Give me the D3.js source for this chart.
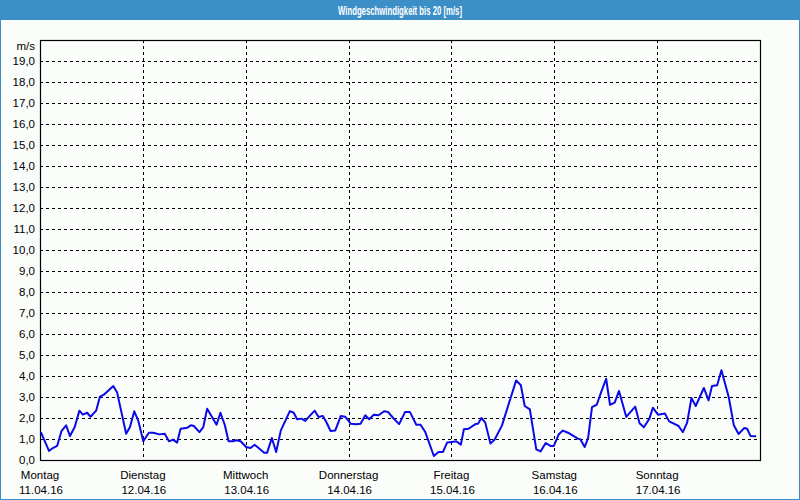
<!DOCTYPE html>
<html><head><meta charset="utf-8">
<script src="https://cdn.jsdelivr.net/npm/d3@7"></script>
<style>body{margin:0;background:#fff}svg{display:block}</style>
</head><body>
<svg id="c" width="800" height="500"></svg>
<script>
const title = "Windgeschwindigkeit bis 20 [m/s]";
const unit = "m/s";
const dayNames = ["Montag","Dienstag","Mittwoch","Donnerstag","Freitag","Samstag","Sonntag"];
const dayDates = ["11.04.16","12.04.16","13.04.16","14.04.16","15.04.16","16.04.16","17.04.16"];
const yTicks = d3.range(0, 20, 1);
// hours since Monday 00:00
const hours = [0.2,2.1,3.0,4.0,5.0,6.1,7.0,8.1,9.2,10.0,11.0,11.8,13.1,14.0,14.9,17.1,18.0,20.1,21.0,22.0,22.9,24.1,25.4,26.4,27.9,
29.1,30.1,31.0,32.0,32.8,34.4,35.2,35.9,37.2,38.1,39.0,41.2,42.1,43.1,44.0,45.0,45.8,46.8,48.1,49.1,50.1,52.3,53.0,54.1,55.1,
56.2,58.3,59.2,60.0,61.0,61.9,63.2,64.1,65.0,66.0,66.8,67.8,68.9,70.2,71.2,72.5,73.7,74.8,75.9,76.8,77.9,79.0,80.3,81.2,82.4,83.8,
85.2,86.3,87.8,88.8,89.9,91.9,93.0,94.0,95.0,96.1,97.1,98.2,98.9,100.0,101.6,102.2,103.0,103.9,105.1,106.1,107.8,111.1,
112.2,113.1,114.3,115.8,116.8,118.0,119.1,119.9,121.0,122.0,123.2,125.5,126.1,127.1,127.9,128.8,129.9,131.0,132.1,133.0,134.1,135.1,136.8,137.8,138.9,
139.9,140.9,142.2,143.0,144.2,145.8,146.8,147.9,149.0,150.0,151.0,152.0,153.0,154.9,156.0,156.8,158.0,159.0,160.7,161.9,163.0,164.3,165.0,165.8,167.1];
const speed = [1.33,0.43,0.57,0.67,1.37,1.65,1.14,1.57,2.35,2.16,2.25,2.06,2.35,3.02,3.11,3.52,3.21,1.25,1.57,2.32,1.89,0.89,1.30,1.30,1.22,
1.25,0.89,0.97,0.83,1.49,1.54,1.65,1.62,1.33,1.57,2.44,1.68,2.25,1.68,0.89,0.89,0.94,0.89,0.62,0.57,0.73,0.35,0.35,1.05,0.38,
1.41,2.33,2.25,1.94,1.97,1.86,2.16,2.35,2.05,2.10,1.81,1.38,1.41,2.10,2.06,1.73,1.70,1.73,2.13,1.94,2.16,2.13,2.32,2.29,2.00,1.71,
2.29,2.29,1.68,1.68,1.33,0.19,0.38,0.38,0.83,0.86,0.89,0.73,1.46,1.49,1.71,1.73,2.00,1.78,0.78,0.98,1.65,3.79,
3.56,2.57,2.41,0.51,0.41,0.81,0.67,0.67,1.21,1.40,1.30,1.02,0.98,0.62,1.05,2.52,2.63,3.27,3.87,2.63,2.73,3.29,2.05,2.29,2.54,
1.75,1.56,1.97,2.49,2.16,2.21,1.84,1.73,1.62,1.33,1.78,2.95,2.57,3.43,2.84,3.52,3.56,4.27,3.00,1.65,1.24,1.52,1.49,1.14,1.13];

const svg = d3.select("#c");
const L = 40, R = 760, T = 40, B = 460;
const x = d3.scaleLinear().domain([0, 168]).range([L, R]);
const y = d3.scaleLinear().domain([0, 20]).range([B, T]);
const font = "'Liberation Sans', Arial, sans-serif";

svg.append("rect").attr("x",0.5).attr("y",0.5).attr("width",799).attr("height",499)
  .attr("fill","#fbfdfb").attr("stroke","#3c8fc6").attr("stroke-width",1);
svg.append("rect").attr("x",0).attr("y",0).attr("width",800).attr("height",20).attr("fill","#3c8fc6");
svg.append("text").attr("x",400).attr("y",15).attr("text-anchor","middle")
  .attr("fill","#fff").attr("font-family",font).attr("font-size",13).attr("font-weight","bold")
  .attr("textLength",124).attr("lengthAdjust","spacingAndGlyphs").text(title);

// grid
const g = svg.append("g");
g.selectAll("line.h").data(yTicks.filter(d=>d>0)).join("line")
  .attr("x1",L).attr("x2",R).attr("y1",d=>Math.round(y(d))+0.5).attr("y2",d=>Math.round(y(d))+0.5)
  .attr("stroke","#000").attr("stroke-dasharray","3,3");
g.selectAll("line.v").data(d3.range(1,7)).join("line")
  .attr("y1",T).attr("y2",B).attr("x1",d=>Math.round(x(d*24))+0.5).attr("x2",d=>Math.round(x(d*24))+0.5)
  .attr("stroke","#000").attr("stroke-dasharray","3,3");

// y axis
const yAxis = d3.axisLeft(y).tickValues(yTicks).tickSize(0).tickPadding(5)
  .tickFormat(d => d3.format(".1f")(d).replace(".", ","));
const ya = svg.append("g").attr("transform",`translate(${L},0)`).call(yAxis);
ya.select(".domain").remove();
ya.selectAll("text").attr("font-family",font).attr("font-size",11.5).attr("fill","#000");
svg.append("text").attr("x",35).attr("y",50).attr("text-anchor","end")
  .attr("font-family",font).attr("font-size",11.5).text(unit);

// x labels
const xa = svg.append("g");
xa.selectAll("text.d").data(dayNames).join("text")
  .attr("x",(d,i)=>x(i*24)).attr("y",479).attr("text-anchor","middle")
  .attr("font-family",font).attr("font-size",11.5).text(d=>d);
xa.selectAll("text.t").data(dayDates).join("text")
  .attr("x",(d,i)=>x(i*24)+1).attr("y",494).attr("text-anchor","middle")
  .attr("font-family",font).attr("font-size",11.5).text(d=>d);

// frame
svg.append("rect").attr("x",L+0.5).attr("y",T+0.5).attr("width",R-L).attr("height",B-T)
  .attr("fill","none").attr("stroke","#000").attr("stroke-width",1.2);

// line
const data = hours.map((h,i)=>({h, v: speed[i]}));
svg.append("path").datum(data)
  .attr("fill","none").attr("stroke","#0a0ae8").attr("stroke-width",2).attr("stroke-linejoin","round")
  .attr("d", d3.line().x(d=>x(d.h)).y(d=>y(d.v)));
</script>
</body></html>
